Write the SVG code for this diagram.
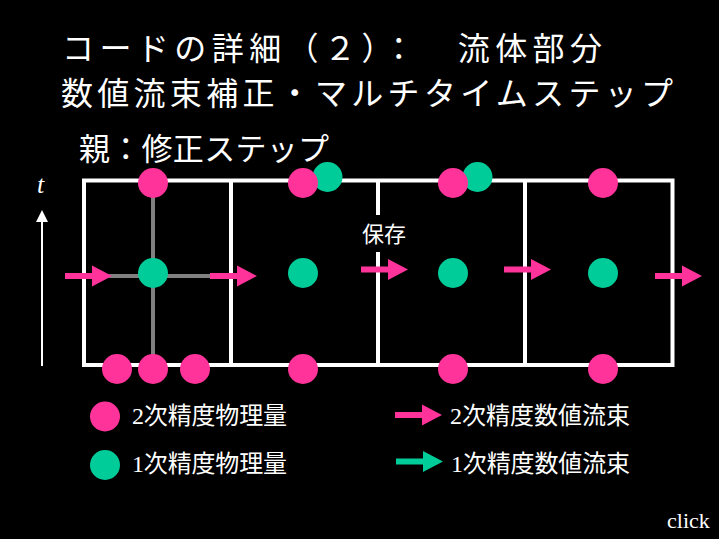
<svg xmlns="http://www.w3.org/2000/svg" width="719" height="539" viewBox="0 0 719 539">
<defs>
<style>
.title{font-family:"Noto Sans CJK JP","Noto Sans",sans-serif;fill:#fff;font-size:32px}
.lbl{font-family:"Liberation Serif","Noto Sans CJK JP",serif;fill:#fff;font-size:24px}
.grid{fill:none;stroke:#fff;stroke-width:4}
.gray{stroke:#808080;stroke-width:4}
.p{fill:#ff3399}
.g{fill:#00cc99}
</style>
<path id="arr" d="M0,-3 L27,-3 L27,-10.5 L47,0 L27,10.5 L27,3 L0,3 Z"/>
</defs>
<rect width="719" height="539" fill="#000"/>
<g id="title">
<text class="title" x="62" y="59.5" textLength="540" lengthAdjust="spacing">コードの詳細（２）：　流体部分</text>
<text class="title" x="61" y="105" textLength="612" lengthAdjust="spacing">数値流束補正・マルチタイムステップ</text>
<text class="title" x="79" y="159.5" style="font-size:31px" textLength="250" lengthAdjust="spacing">親：修正ステップ</text>
</g>
<g id="time-axis">
<line x1="42" y1="366" x2="42" y2="220" stroke="#fff" stroke-width="2"/>
<polygon points="42,210 36,222 48,222" fill="#fff"/>
<text x="37" y="193" style="font-family:'Liberation Serif',serif;font-style:italic;font-size:26px;fill:#fff">t</text>
</g>
<g id="grid">
<rect class="grid" x="84" y="180.5" width="588.5" height="184.5"/>
<line class="grid" x1="231" y1="180.5" x2="231" y2="365"/>
<line class="grid" x1="378" y1="180.5" x2="378" y2="365"/>
<line class="grid" x1="525" y1="180.5" x2="525" y2="365"/>
</g>
<g id="connectors">
<line class="gray" x1="153" y1="183" x2="153" y2="369"/>
<line class="gray" x1="84" y1="276" x2="231" y2="276"/>
<use href="#arr" class="p" x="65" y="276"/>
<use href="#arr" class="p" x="210" y="276"/>
<use href="#arr" class="p" x="361" y="269.5"/>
<use href="#arr" class="p" x="504" y="269.5"/>
<use href="#arr" class="p" x="655" y="276"/>
</g>
<g id="label-hozon">
<rect x="361" y="215" width="48" height="37" fill="#000"/>
<text x="362" y="242" style="font-family:'Noto Sans CJK JP',sans-serif;font-size:22px;fill:#fff">保存</text>
</g>
<g id="cell1">
<circle class="p" cx="153" cy="183" r="15"/>
<circle class="g" cx="153" cy="273" r="15"/>
<circle class="p" cx="117" cy="369" r="15"/>
<circle class="p" cx="153" cy="369" r="15"/>
<circle class="p" cx="195" cy="369" r="15"/>
</g>
<g id="cell2">
<circle class="g" cx="327.5" cy="177" r="15"/>
<circle class="p" cx="303" cy="183" r="15"/>
<circle class="g" cx="303" cy="273" r="15"/>
<circle class="p" cx="303" cy="369" r="15"/>
</g>
<g id="cell3">
<circle class="g" cx="477.5" cy="177" r="15"/>
<circle class="p" cx="453" cy="183" r="15"/>
<circle class="g" cx="453" cy="273" r="15"/>
<circle class="p" cx="453" cy="369" r="15"/>
</g>
<g id="cell4">
<circle class="p" cx="603" cy="183" r="15"/>
<circle class="g" cx="603" cy="273" r="15"/>
<circle class="p" cx="603" cy="369" r="15"/>
</g>
<g id="legend">
<circle class="p" cx="105" cy="416.5" r="15"/>
<text class="lbl" x="132" y="424" textLength="155" lengthAdjust="spacing">2次精度物理量</text>
<circle class="g" cx="105" cy="465" r="15"/>
<text class="lbl" x="132" y="472" textLength="155" lengthAdjust="spacing">1次精度物理量</text>
<use href="#arr" class="p" x="395" y="415" transform="translate(0,0)"/>
<text class="lbl" x="450" y="424" textLength="180" lengthAdjust="spacing">2次精度数値流束</text>
<use href="#arr" class="g" x="396" y="461.5"/>
<text class="lbl" x="451" y="472" textLength="179" lengthAdjust="spacing">1次精度数値流束</text>
</g>
<text x="667" y="528" style="font-family:'Liberation Serif',serif;font-size:22px;fill:#fff">click</text>
</svg>
